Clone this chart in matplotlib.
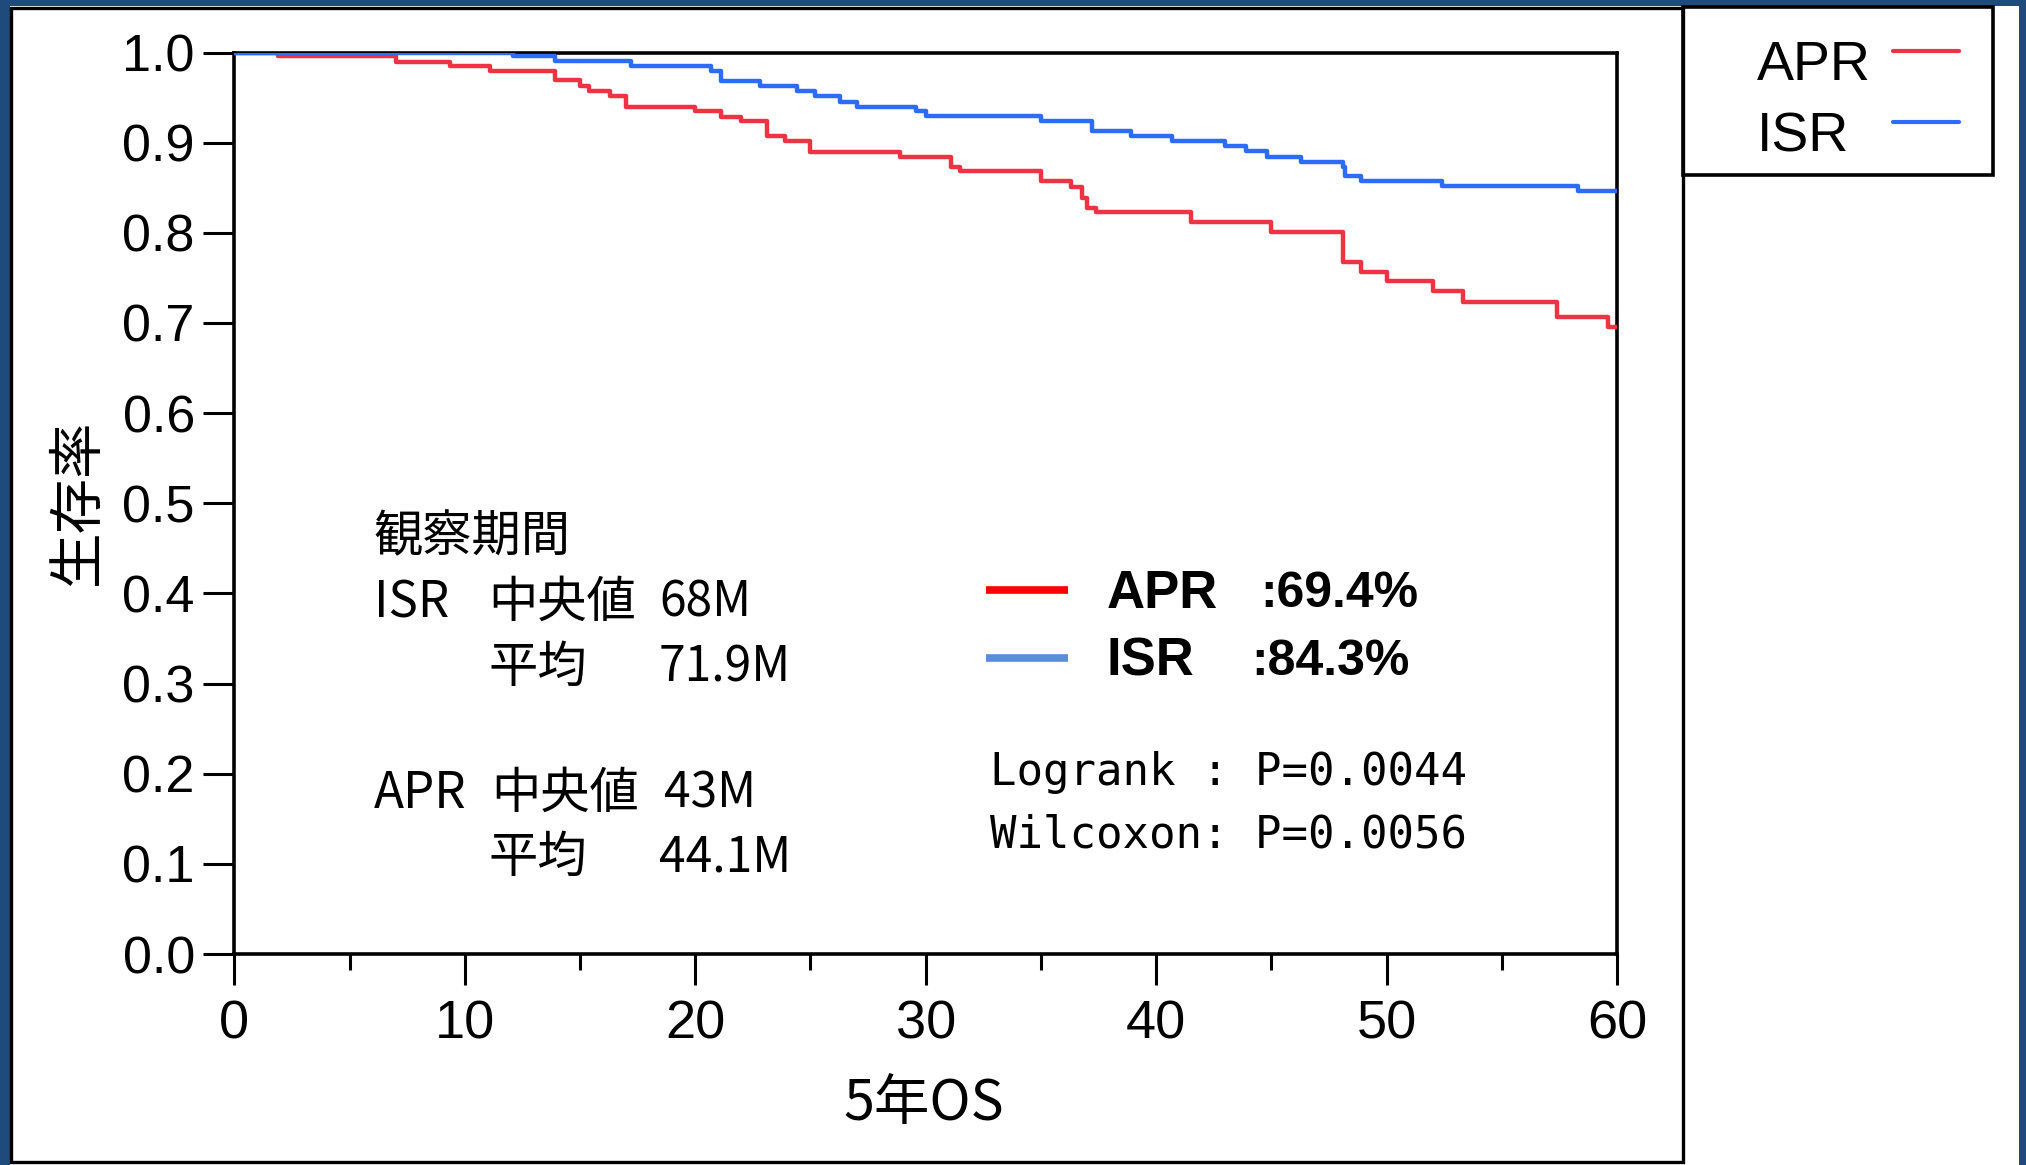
import matplotlib
matplotlib.use('Agg')
import matplotlib.pyplot as plt
from matplotlib.patches import Rectangle
from matplotlib.lines import Line2D

W, H = 2026, 1165
def fx(px):
    return px / W
def fy(py):
    return 1 - py / H

# ---- data ----
apr_t = [0, 1.9, 7.0, 9.35, 11.1, 13.9, 15.0, 15.4, 16.3, 17.0, 20.0, 21.1, 22.0, 23.1, 23.9,
         25.0, 28.9, 31.1, 31.5, 35.0, 36.3, 36.8, 37.0, 37.4, 41.5, 45.0, 48.1, 48.9, 50.0,
         52.0, 53.3, 57.4, 59.6, 60]
apr_s = [1.0, 0.996, 0.990, 0.985, 0.979, 0.969, 0.963, 0.957, 0.952, 0.940, 0.935, 0.929, 0.924,
         0.907, 0.902, 0.890, 0.884, 0.873, 0.868, 0.857, 0.851, 0.839, 0.828, 0.823, 0.812, 0.801,
         0.768, 0.757, 0.746, 0.735, 0.723, 0.707, 0.696, 0.696]
isr_t = [0, 12.1, 13.9, 17.2, 20.7, 21.1, 22.8, 24.4, 25.2, 26.3, 27.0, 29.6, 30.0, 35.0, 37.2,
         38.9, 40.7, 43.0, 43.9, 44.8, 46.3, 48.1, 48.2, 48.9, 52.4, 58.3, 60]
isr_s = [1.0, 0.996, 0.991, 0.985, 0.979, 0.968, 0.963, 0.957, 0.952, 0.945, 0.940, 0.935, 0.930,
         0.924, 0.913, 0.907, 0.902, 0.896, 0.891, 0.884, 0.879, 0.873, 0.863, 0.857, 0.852, 0.846,
         0.846]
series_names = ['APR', 'ISR']
final_rates = ['69.4%', '84.3%']
xticks = [0, 10, 20, 30, 40, 50, 60]
xminor = [5, 15, 25, 35, 45, 55]
yticks = [0.0, 0.1, 0.2, 0.3, 0.4, 0.5, 0.6, 0.7, 0.8, 0.9, 1.0]
ytick_labels = ['0.0', '0.1', '0.2', '0.3', '0.4', '0.5', '0.6', '0.7', '0.8', '0.9', '1.0']
pvals = [('Logrank ', '0.0044'), ('Wilcoxon', '0.0056')]

RED = '#EE3344'
BLUE = '#2D6CF6'
NAVY = '#1F4A7C'
CJK = ['Noto Sans CJK JP', 'DejaVu Sans']
SANS = ['Liberation Sans', 'DejaVu Sans']

fig = plt.figure(figsize=(W / 100, H / 100), dpi=100, facecolor=NAVY)

# white panels and frames
fig.add_artist(Rectangle((fx(10), fy(1165)), fx(2019) - fx(10), fy(6) - fy(1165),
                         transform=fig.transFigure, facecolor='white', edgecolor='none', zorder=-3))
fig.add_artist(Rectangle((fx(11), fy(1162)), fx(1683) - fx(11), fy(7.5) - fy(1162),
                         transform=fig.transFigure, fill=False, edgecolor='black', lw=2.4, zorder=5))
fig.add_artist(Rectangle((fx(1683), fy(175)), fx(1993) - fx(1683), fy(7.5) - fy(175),
                         transform=fig.transFigure, fill=False, edgecolor='black', lw=2.6, zorder=5))

ax = fig.add_axes([fx(234.4), fy(954), fx(1617) - fx(234.4), fy(52.5) - fy(954)])
ax.set_facecolor('white')
ax.step(apr_t, apr_s, where='post', color=RED, lw=3.2, zorder=3)
ax.step(isr_t, isr_s, where='post', color=BLUE, lw=3.2, zorder=3)
ax.set_xlim(0, 60)
ax.set_ylim(0, 1)
ax.set_xticks(xticks)
ax.set_xticklabels([str(v) for v in xticks])
ax.set_xticks(xminor, minor=True)
ax.set_yticks(yticks)
ax.set_yticklabels(ytick_labels)
for s in ax.spines.values():
    s.set_linewidth(2.6)
    s.set_color('black')
ax.tick_params(axis='both', which='major', direction='out', length=22, width=2.2,
               color='black')
ax.tick_params(axis='x', which='major', pad=11, labelsize=39)
ax.tick_params(axis='y', which='major', pad=6.5, labelsize=37.5)
ax.tick_params(axis='x', which='minor', direction='out', length=11.5, width=2.2)
for lab in ax.get_xticklabels() + ax.get_yticklabels():
    lab.set_family(SANS)

# axis labels
fig.text(fx(924), fy(1104), '5年OS', ha='center', va='center', fontsize=40, family=CJK)
fig.text(fx(78), fy(502), '生存率', ha='center', va='center', rotation=90, fontsize=40, family=CJK)

# observation period block
fs_blk = 35.5
d = 5
fig.text(fx(374), fy(532 + d), '観察期間', ha='left', va='center', fontsize=fs_blk, family=CJK)
fig.text(fx(374), fy(598 + d), 'ISR', ha='left', va='center', fontsize=fs_blk, family=CJK)
fig.text(fx(488), fy(598 + d), '中央値', ha='left', va='center', fontsize=fs_blk, family=CJK)
fig.text(fx(659), fy(598 + d), '68M', ha='left', va='center', fontsize=fs_blk - 1, family=CJK)
fig.text(fx(488), fy(663 + d), '平均', ha='left', va='center', fontsize=fs_blk, family=CJK)
fig.text(fx(659), fy(663 + d), '71.9M', ha='left', va='center', fontsize=fs_blk - 1, family=CJK)
fig.text(fx(374), fy(789 + d), 'APR', ha='left', va='center', fontsize=fs_blk, family=CJK)
fig.text(fx(491), fy(789 + d), '中央値', ha='left', va='center', fontsize=fs_blk, family=CJK)
fig.text(fx(664), fy(789 + d), '43M', ha='left', va='center', fontsize=fs_blk - 1, family=CJK)
fig.text(fx(488), fy(853 + d), '平均', ha='left', va='center', fontsize=fs_blk, family=CJK)
fig.text(fx(659), fy(853 + d), '44.1M', ha='left', va='center', fontsize=fs_blk - 1, family=CJK)

# inner legend with 5-year rates
inner_cols = ['#FF0000', '#5A8ED6']
inner_y = [590, 658]
rate_x = [1260, 1251]
for name, rate, col, yy, rx in zip(series_names, final_rates, inner_cols, inner_y, rate_x):
    fig.add_artist(Line2D([fx(986), fx(1068)], [fy(yy), fy(yy)], transform=fig.transFigure,
                          color=col, lw=5.5, solid_capstyle='butt'))
    fig.text(fx(1107), fy(yy + 4), name, ha='left', va='center', fontsize=38,
             fontweight='bold', family=SANS)
    fig.text(fx(rx), fy(yy + 4), ':' + rate, ha='left', va='center', fontsize=36,
             fontweight='bold', family=SANS)

# p-values
for (test, p), yy in zip(pvals, [772, 835]):
    fig.text(fx(990), fy(yy), f'{test}: P={p}', ha='left', va='center', fontsize=31.7,
             family=['DejaVu Sans Mono'])

# top-right legend box
leg_cols = [RED, BLUE]
leg_text_y = [66, 137]
leg_line_y = [51, 122]
for name, col, ty, ly in zip(series_names, leg_cols, leg_text_y, leg_line_y):
    fig.text(fx(1757), fy(ty), name, ha='left', va='center', fontsize=40, family=SANS)
    fig.add_artist(Line2D([fx(1893), fx(1959)], [fy(ly), fy(ly)], transform=fig.transFigure,
                          color=col, lw=3.0, solid_capstyle='round'))

fig.savefig('out.png', dpi=100, facecolor=NAVY)
